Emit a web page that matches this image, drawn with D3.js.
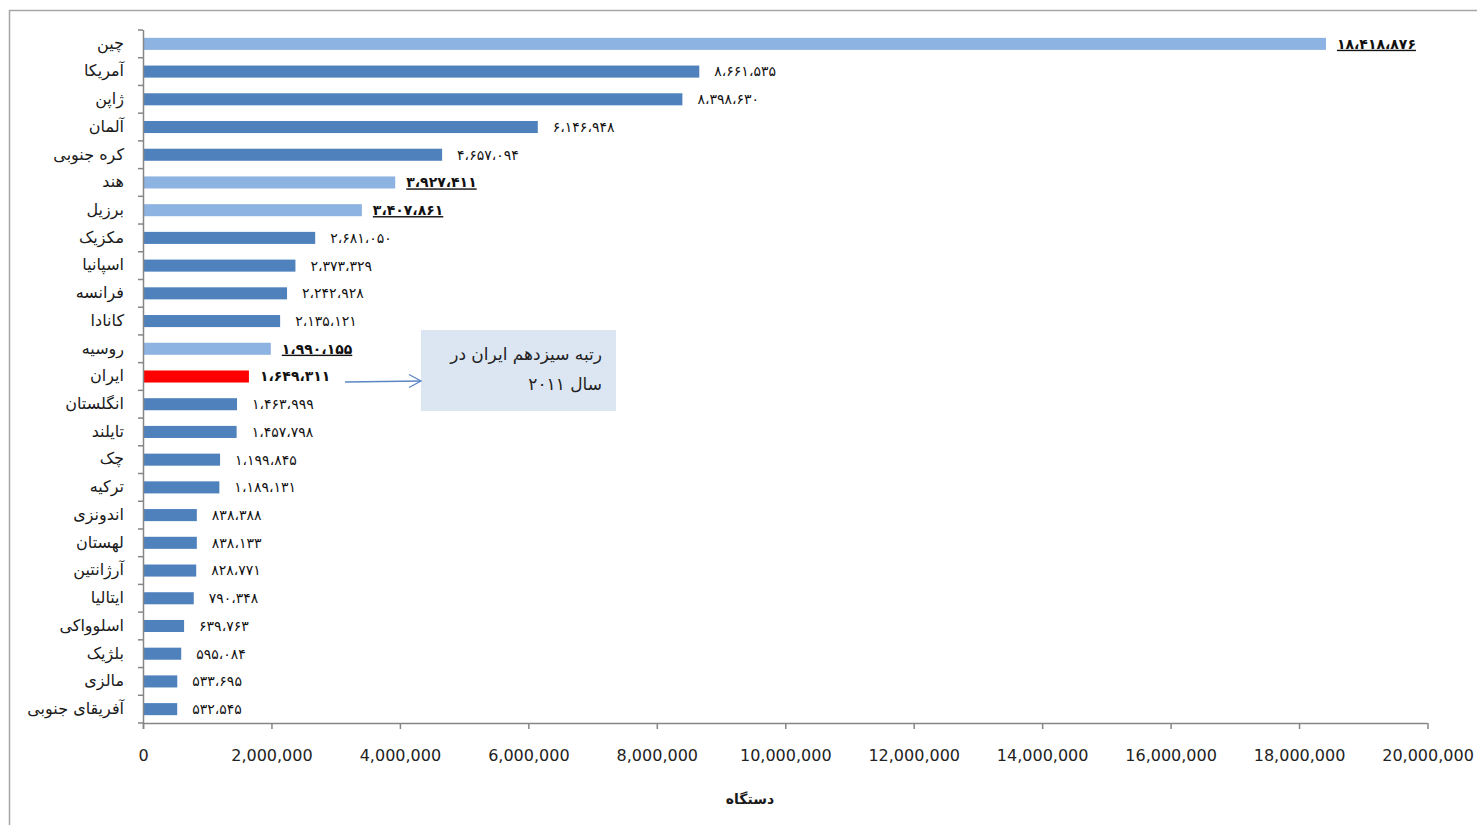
<!DOCTYPE html>
<html>
<head>
<meta charset="utf-8">
<script src="https://cdn.jsdelivr.net/npm/d3@7"></script>
<style>
  html, body { margin: 0; padding: 0; background: #fff; }
  svg { display: block; }
</style>
</head>
<body>
<svg id="chart" width="1477" height="825"></svg>
<script>
const countries = ["چین","آمریکا","ژاپن","آلمان","کره جنوبی","هند","برزیل","مکزیک","اسپانیا","فرانسه","کانادا","روسیه","ایران","انگلستان","تایلند","چک","ترکیه","اندونزی","لهستان","آرژانتین","ایتالیا","اسلوواکی","بلژیک","مالزی","آفریقای جنوبی"];
const values = [18418876,8661535,8398630,6146948,4657094,3927411,3407861,2681050,2373329,2242928,2135121,1990155,1649311,1463999,1457798,1199845,1189131,838388,838133,828771,790348,639763,595084,533695,532545];
// group: "bric" = highlighted light bars, "iran" = red bar, "other" = normal
const groups = ["bric","other","other","other","other","bric","bric","other","other","other","other","bric","iran","other","other","other","other","other","other","other","other","other","other","other","other"];
const xTicks = [0,2000000,4000000,6000000,8000000,10000000,12000000,14000000,16000000,18000000,20000000];
const xTitle = "دستگاه";
const noteLines = ["رتبه سیزدهم ایران در","سال ۲۰۱۱"];

const data = countries.map((c,i)=>({name:c, value:values[i], group:groups[i]}));
const colors = {bric:"#8db3e2", other:"#4f81bd", iran:"#ff0000"};

const svg = d3.select("#chart");
const mLeft = 143, mRight = 1427.5, mTop = 30, mBottom = 723;

const x = d3.scaleLinear().domain([0,20000000]).range([mLeft,mRight]);
const y = d3.scaleBand().domain(countries).range([mTop,mBottom]).paddingInner(0.565).paddingOuter(0.2825);

// outer frame
svg.append("path").attr("d","M9.5,825 V10.5 H1477").attr("fill","none").attr("stroke","#a6a6a6").attr("stroke-width",1.5);

const faDigits = "۰۱۲۳۴۵۶۷۸۹";
const fa = n => d3.format(",")(n).replace(/,/g,"،").replace(/[0-9]/g,d=>faDigits[+d]);

// bars
svg.append("g").selectAll("rect").data(data).join("rect")
  .attr("x", x(0)).attr("y", d=>y(d.name))
  .attr("width", d=>x(d.value)-x(0)).attr("height", y.bandwidth())
  .attr("fill", d=>colors[d.group]);

// axes
const gy = svg.append("g").attr("transform",`translate(${mLeft},0)`);
gy.append("line").attr("x1",0.5).attr("x2",0.5).attr("y1",mTop).attr("y2",mBottom+6).attr("stroke","#868686").attr("stroke-width",1.5);
const bounds = d3.range(countries.length+1).map(i=>mTop+i*(mBottom-mTop)/countries.length);
gy.selectAll("line.t").data(bounds).join("line").attr("class","t")
  .attr("x1",-5).attr("x2",0).attr("y1",d=>d).attr("y2",d=>d).attr("stroke","#868686").attr("stroke-width",1.5);

gy.selectAll("text").data(countries).join("text")
  .attr("x",-19).attr("y",d=>y(d)+y.bandwidth()/2)
  .attr("dy","0.3em").attr("text-anchor","end")
  .attr("font-family","DejaVu Sans, sans-serif").attr("font-size",16).attr("fill","#1a1a1a")
  .text(d=>d);

const xAxis = d3.axisBottom(x).tickValues(xTicks).tickSize(6).tickFormat(d3.format(","));
const gx = svg.append("g").attr("transform",`translate(0,${mBottom})`).call(xAxis);
gx.select(".domain").attr("stroke","#868686").attr("stroke-width",1.5).attr("d",`M${mLeft},0.5H${mRight}`);
gx.selectAll(".tick line").attr("stroke","#868686").attr("stroke-width",1.5);
gx.selectAll(".tick text").attr("y",32).attr("dy","0.35em")
  .attr("font-family","DejaVu Sans, sans-serif").attr("font-size",16).attr("fill","#222");

svg.append("text").attr("x",750).attr("y",804).attr("text-anchor","middle")
  .attr("font-family","DejaVu Sans, sans-serif").attr("font-weight","bold").attr("font-size",14).attr("fill","#1a1a1a")
  .text(xTitle);

// value labels
svg.append("g").selectAll("text").data(data).join("text")
  .attr("x", d=>x(d.value) + (d.group==="other"?15:11))
  .attr("y", d=>y(d.name)+y.bandwidth()/2)
  .attr("dy","0.35em")
  .attr("font-family","DejaVu Sans, sans-serif")
  .attr("font-size", d=>d.group==="other"?14:14)
  .attr("font-weight", d=>d.group==="other"?"normal":"bold")
  .attr("text-decoration", d=>d.group==="bric"?"underline":null)
  .attr("fill","#111")
  .text(d=>fa(d.value));

// annotation
const iranY = y("ایران")+y.bandwidth()/2;
const noteX = 421, noteY = 330, noteW = 195, noteH = 81;
svg.append("rect").attr("x",noteX).attr("y",noteY).attr("width",noteW).attr("height",noteH).attr("fill","#dce6f2");
svg.append("g").selectAll("text").data(noteLines).join("text")
  .attr("x",noteX+noteW-14).attr("y",(d,i)=>noteY+24+i*30).attr("dy","0.35em")
  .attr("text-anchor","end").attr("font-family","DejaVu Sans, sans-serif").attr("font-size",17).attr("fill","#222")
  .text(d=>d);
const ay = iranY+5;
svg.append("line").attr("x1",345).attr("y1",ay+0.5).attr("x2",noteX).attr("y2",ay-0.5).attr("stroke","#5b86c4").attr("stroke-width",1.3);
svg.append("path").attr("d",`M${noteX-12},${ay-7} L${noteX},${ay-0.5} L${noteX-12},${ay+6}`).attr("fill","none").attr("stroke","#5b86c4").attr("stroke-width",1.3);
</script>
</body>
</html>
